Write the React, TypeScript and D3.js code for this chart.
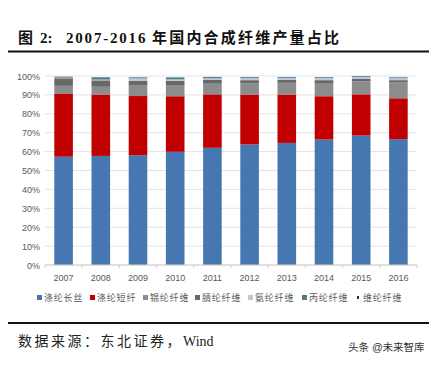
import React from "react";
import * as d3 from "d3";

const width = 439;
const height = 365;

const years = ["2007", "2008", "2009", "2010", "2011", "2012", "2013", "2014", "2015", "2016"];
const seriesNames = ["涤纶长丝", "涤纶短纤", "锦纶纤维", "腈纶纤维", "氨纶纤维", "丙纶纤维", "维纶纤维"];
const seriesColors = ["#4677b1", "#c00000", "#8c8c8c", "#686868", "#b6c8de", "#4e7f89", "#1f3552"];

// shares in %
const polyesterFilament = [57.3, 57.7, 58.1, 59.9, 62.0, 63.8, 64.6, 66.4, 68.5, 66.6];
const polyesterStaple = [33.2, 32.5, 31.3, 29.4, 28.3, 26.4, 25.6, 22.9, 21.8, 21.6];
const nylon = [4.3, 4.1, 5.5, 5.9, 5.6, 6.0, 6.2, 7.0, 6.9, 8.3];
const acrylic = [4.0, 3.4, 2.5, 2.3, 2.0, 1.6, 1.5, 1.5, 1.3, 1.3];
const spandex = [0.3, 0.4, 1.4, 0.7, 0.9, 1.1, 1.0, 1.2, 1.1, 1.1];
const polypropylene = [0.3, 1.0, 0.3, 0.8, 0.5, 0.3, 0.3, 0.2, 0.2, 0.2];
const vinylon = [0.2, 0.2, 0.2, 0.2, 0.2, 0.2, 0.2, 0.2, 0.2, 0.2];

const yTicks = [0, 10, 20, 30, 40, 50, 60, 70, 80, 90, 100];

const series = [polyesterFilament, polyesterStaple, nylon, acrylic, spandex, polypropylene, vinylon];

const margin = { left: 45, right: 22, top: 76, bottom: 100 };

const App: React.FC = () => {
  const x = d3
    .scaleBand<string>()
    .domain(years)
    .range([margin.left, width - margin.right])
    .paddingInner(0.5)
    .paddingOuter(0.25);
  const y = d3.scaleLinear().domain([0, 100]).range([height - margin.bottom, margin.top]);

  const table = years.map((yr, i) => {
    const row: Record<string, number | string> = { year: yr };
    seriesNames.forEach((n, k) => (row[n] = series[k][i]));
    return row;
  });
  const stacked = d3.stack<Record<string, number | string>>().keys(seriesNames)(table);

  const sansFont = "'Liberation Sans', 'Noto Sans CJK SC', sans-serif";
  const serifFont = "'Liberation Serif', 'DejaVu Serif', 'Noto Sans CJK SC', serif";
  const step = x.step();
  const baseY = y(0);

  const legendX = [37, 90, 143, 195, 248, 302, 356];

  return (
    <svg width={width} height={height} style={{ position: "absolute", left: 0, top: 0 }}>
      <rect width={width} height={height} fill="#fff" />
      <text x={18} y={43} fontFamily={serifFont} fontSize={15} fontWeight="bold" fill="#111">
        <tspan>图</tspan>
        <tspan x={40}>2:</tspan>
        <tspan x={66} letterSpacing={1.8}>2007-2016</tspan>
        <tspan x={152} letterSpacing={2.2}>年国内合成纤维产量占比</tspan>
      </text>
      <line x1={8} x2={429} y1={51.5} y2={51.5} stroke="#111" strokeWidth={2} />

      {yTicks.map((t) => (
        <g key={t}>
          <line x1={margin.left} x2={width - margin.right} y1={y(t)} y2={y(t)} stroke="#e3e3e3" strokeWidth={1} />
          <text x={40} y={y(t) + 3.5} textAnchor="end" fontFamily={sansFont} fontSize={9} fill="#595959">
            {t}%
          </text>
        </g>
      ))}

      {stacked.map((s, k) => (
        <g key={s.key} fill={seriesColors[k]}>
          {s.map((d, i) => (
            <rect
              key={i}
              x={x(years[i])!}
              width={x.bandwidth()}
              y={y(d[1])}
              height={Math.max(0, y(d[0]) - y(d[1]))}
            />
          ))}
        </g>
      ))}

      <line x1={margin.left} x2={width - margin.right} y1={baseY} y2={baseY} stroke="#d0d0d0" />
      {d3.range(years.length + 1).map((i) => (
        <line
          key={i}
          x1={margin.left + i * step}
          x2={margin.left + i * step}
          y1={baseY}
          y2={baseY + 3}
          stroke="#d0d0d0"
        />
      ))}
      {years.map((yr) => (
        <text
          key={yr}
          x={x(yr)! + x.bandwidth() / 2}
          y={281}
          textAnchor="middle"
          fontFamily={sansFont}
          fontSize={9}
          fill="#595959"
        >
          {yr}
        </text>
      ))}

      {seriesNames.map((n, k) => (
        <g key={n}>
          {k === 6 ? (
            <rect x={legendX[k] + 1} y={296} width={2} height={3} fill={seriesColors[k]} />
          ) : (
            <rect x={legendX[k]} y={295} width={5} height={5} fill={seriesColors[k]} />
          )}
          <text x={legendX[k] + 7} y={301} fontFamily={sansFont} fontSize={9} letterSpacing={0.8} fill="#595959">
            {n}
          </text>
        </g>
      ))}

      <line x1={8} x2={429} y1={323} y2={323} stroke="#111" strokeWidth={2} />
      <text x={18} y={346} fontFamily={serifFont} fontSize={14} fill="#222">
        <tspan letterSpacing={2.5}>数据来源：东北证券，</tspan>
        <tspan>Wind</tspan>
      </text>
      <text x={348} y={351} fontFamily={sansFont} fontSize={10.5} fill="#333">
        头条 @未来智库
      </text>
    </svg>
  );
};

export default App;
